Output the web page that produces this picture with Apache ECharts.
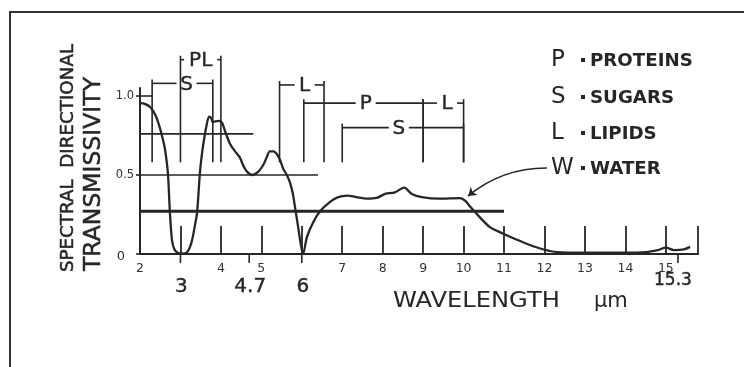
<!DOCTYPE html>
<html>
<head>
<meta charset="utf-8">
<script src="https://cdn.jsdelivr.net/npm/echarts@6/dist/echarts.min.js"></script>
<style>
  html, body { margin: 0; padding: 0; background: #fff; }
  #chart { width: 744px; height: 367px; }
</style>
</head>
<body>
<div id="chart"></div>
<script>
// Spectral directional transmissivity against wavelength (µm)
const wavelength = [
  2.00, 2.12, 2.25, 2.38, 2.49, 2.57, 2.62, 2.69, 2.74, 2.79, 2.85, 2.93, 3.05, 3.16, 3.23,
  3.29, 3.35, 3.41, 3.48, 3.53, 3.58, 3.65, 3.71, 3.76, 3.80, 3.86, 3.95, 4.03, 4.10, 4.22,
  4.35, 4.47, 4.57, 4.65, 4.77, 4.92, 5.04, 5.13, 5.21, 5.30, 5.39, 5.47, 5.54, 5.63, 5.71,
  5.78, 5.83, 5.91, 5.97, 6.03, 6.13, 6.28, 6.45, 6.70, 6.90, 7.12, 7.35, 7.61, 7.85, 8.06,
  8.30, 8.53, 8.72, 8.97, 9.39, 9.91, 10.05, 10.16, 10.41, 10.65, 10.97, 11.32, 11.64, 11.96,
  12.30, 13.00, 14.00, 14.50, 14.80, 15.00, 15.20, 15.45, 15.60
];
const transmissivity = [
  0.955, 0.950, 0.930, 0.880, 0.800, 0.720, 0.660, 0.510, 0.260, 0.090, 0.030, 0.008, 0.003, 0.010, 0.040,
  0.090, 0.170, 0.260, 0.510, 0.630, 0.720, 0.820, 0.870, 0.860, 0.835, 0.840, 0.842, 0.830, 0.780, 0.700,
  0.650, 0.610, 0.550, 0.520, 0.500, 0.520, 0.560, 0.610, 0.650, 0.650, 0.630, 0.590, 0.540, 0.500, 0.450,
  0.380, 0.300, 0.170, 0.070, 0.000, 0.110, 0.200, 0.270, 0.330, 0.360, 0.370, 0.360, 0.350, 0.355, 0.380,
  0.390, 0.420, 0.380, 0.360, 0.350, 0.354, 0.335, 0.300, 0.230, 0.170, 0.130, 0.090, 0.057, 0.030,
  0.012, 0.008, 0.008, 0.012, 0.025, 0.040, 0.025, 0.030, 0.045
];

// Absorption bands: P proteins, S sugars, L lipids
const bandNames = ['S', 'PL', 'L', 'P', 'L', 'S'];
const bandFrom = [2.3, 3.0, 5.45, 6.05, 9.0, 7.0];
const bandTo = [3.8, 4.0, 6.55, 9.0, 10.0, 10.0];
const bandLabelAt = [3.15, 3.5, 6.07, 7.58, 9.59, 8.4];

// Horizontal reference levels and the wavelength where each stops
const refLevels = [0.76, 0.5, 0.27];
const refEnds = [4.8, 6.4, 11.0];

// Wavelengths called out under the axis
const markedWavelengths = [3, 4.7, 6, 15.3];

// Tick labels
const xTickLabels = [2, 4, 5, 7, 8, 9, 10, 11, 12, 13, 14, 15];
const yTickLabels = ['0', '0.5', '1.0'];

// Key
const legendKeys = ['P', 'S', 'L', 'W'];
const legendNames = ['PROTEINS', 'SUGARS', 'LIPIDS', 'WATER'];

// Pointer from the water entry to the curve
const waterArrow = [[12.06, 0.544], [10.11, 0.367]];

// ---- drawing ----
const INK = '#262626';
const FONT = '"DejaVu Sans", "Noto Sans", sans-serif';
const X_MIN = 2, X_MAX = 15.8, Y_MAX = 1.05;

// layout of the band brackets (height of each bracket, foot of the drop lines)
const bracketLevel = [1.08, 1.23, 1.07, 0.955, 0.955, 0.80];
const bracketFoot = 0.58;

const chart = echarts.init(document.getElementById('chart'), null, { renderer: 'canvas' });

function renderBand(params, api) {
  const i = params.dataIndex;
  const from = api.value(0), to = api.value(1), at = api.value(2);
  const level = bracketLevel[i];
  const a = api.coord([from, level]);
  const b = api.coord([to, level]);
  const m = api.coord([at, level]);
  const yTop = api.coord([from, level + 0.025])[1];
  const yFoot = api.coord([from, bracketFoot])[1];
  const name = bandNames[i];
  const half = name.length * 6.5 + 3.5;
  const ls = () => ({ stroke: INK, lineWidth: 1.6 });
  return {
    type: 'group',
    children: [
      { type: 'line', shape: { x1: a[0], y1: yTop, x2: a[0], y2: yFoot }, style: ls() },
      { type: 'line', shape: { x1: b[0], y1: yTop, x2: b[0], y2: yFoot }, style: ls() },
      { type: 'line', shape: { x1: a[0], y1: a[1], x2: m[0] - half, y2: a[1] }, style: ls() },
      { type: 'line', shape: { x1: m[0] + half, y1: a[1], x2: b[0], y2: a[1] }, style: ls() },
      { type: 'text', x: m[0], y: m[1] + 1,
        style: { text: name, fill: INK, font: '20px ' + FONT, align: 'center', verticalAlign: 'middle',
                 stroke: INK, lineWidth: 0.4 } }
    ]
  };
}

function renderMarked(params, api) {
  const v = api.value(0);
  const p = api.coord([v, 0]);
  const wide = v > 15;
  const txt = String(v);
  return {
    type: 'group',
    children: [
      { type: 'line', shape: { x1: p[0], y1: p[1], x2: p[0], y2: p[1] + 9 }, style: { stroke: INK, lineWidth: 1.6 } },
      { type: 'text', x: p[0] + (wide ? -5 : 1), y: p[1] + (wide ? 27 : 33),
        style: { text: txt, fill: INK, font: (wide ? '17px ' : '20px ') + FONT, align: 'center', verticalAlign: 'middle',
                 stroke: INK, lineWidth: 0.4 } }
    ]
  };
}

const series = [];

// reference levels
refLevels.forEach((lvl, i) => {
  series.push({
    type: 'line', silent: true, symbol: 'none', clip: false, z: 2,
    data: [[X_MIN, lvl], [refEnds[i], lvl]],
    lineStyle: { color: INK, width: i === refLevels.length - 1 ? 3 : 1.6 }
  });
});

// stub from the 1.0 tick to the first bracket
series.push({
  type: 'line', silent: true, symbol: 'none', clip: false, z: 2,
  data: [[X_MIN, 1.0], [bandFrom[0], 1.0]],
  lineStyle: { color: INK, width: 1.6 }
});

// band brackets
series.push({
  type: 'custom', silent: true, clip: false, z: 3,
  renderItem: renderBand,
  data: bandFrom.map((f, i) => [f, bandTo[i], bandLabelAt[i]])
});

// called-out wavelengths
series.push({
  type: 'custom', silent: true, clip: false, z: 3,
  renderItem: renderMarked,
  data: markedWavelengths.map(v => [v, 0])
});

// transmissivity curve
series.push({
  type: 'line', silent: true, symbol: 'none', clip: false, z: 5,
  smooth: 0.3,
  data: wavelength.map((w, i) => [w, transmissivity[i]]),
  lineStyle: { color: INK, width: 2.3 }
});

// water pointer
series.push({
  type: 'lines', coordinateSystem: 'cartesian2d', silent: true, z: 6,
  symbol: ['none', 'arrow'], symbolSize: 8,
  data: [{ coords: waterArrow }],
  lineStyle: { color: INK, width: 1.6, curveness: -0.18, opacity: 1 }
});

// key on the right
const legendGraphics = [];
legendKeys.forEach((k, i) => {
  const cy = [60, 97, 133, 168][i];
  legendGraphics.push(
    { type: 'text', x: 551, y: cy, style: { text: k, fill: INK, font: '23px ' + FONT, align: 'left', verticalAlign: 'middle' } },
    { type: 'rect', shape: { x: 581, y: cy - 2, width: 4, height: 4 }, style: { fill: INK } },
    { type: 'text', x: 590, y: cy + 1, scaleX: 1.04,
      style: { text: legendNames[i], fill: INK, font: 'bold 17.5px ' + FONT, align: 'left', verticalAlign: 'middle' } }
  );
});

chart.setOption({
  animation: false,
  backgroundColor: '#fff',
  grid: { left: 140, right: 45.8, top: 88.1, bottom: 113, containLabel: false },
  xAxis: {
    type: 'value', min: X_MIN, max: X_MAX, interval: 1,
    axisLine: { lineStyle: { color: INK, width: 2 } },
    axisTick: { inside: true, length: 28, lineStyle: { color: INK, width: 1.8 } },
    axisLabel: {
      margin: 8, color: '#333', fontSize: 12.5, fontFamily: FONT,
      formatter: v => (xTickLabels.indexOf(Math.round(v)) >= 0 && Math.abs(v - Math.round(v)) < 1e-6) ? String(Math.round(v)) : ''
    },
    splitLine: { show: false }
  },
  yAxis: {
    type: 'value', min: 0, max: Y_MAX, interval: 0.5,
    axisLine: { show: true, lineStyle: { color: INK, width: 2 } },
    axisTick: { show: true, inside: false, length: 4, lineStyle: { color: INK, width: 1.6 } },
    axisLabel: {
      margin: 6, color: '#333', fontSize: 11.5, fontFamily: FONT,
      formatter: v => {
        const idx = Math.round(v / 0.5);
        const t = yTickLabels[idx] || '';
        return idx === 0 ? '{z|' + t + '}' : t;
      },
      rich: { z: { fontSize: 13, fontFamily: FONT, color: '#333', padding: [6, 9, 0, 0] } }
    },
    splitLine: { show: false }
  },
  graphic: [
    { type: 'polyline', shape: { points: [[10, 367], [10, 12], [744, 12]] }, style: { stroke: '#333', lineWidth: 2, fill: null } },
    { type: 'text', x: 68, y: 158, rotation: Math.PI / 2,
      style: { text: 'SPECTRAL  DIRECTIONAL', fill: INK, font: '18.3px ' + FONT, align: 'center', verticalAlign: 'middle',
               stroke: INK, lineWidth: 0.5 } },
    { type: 'text', x: 94, y: 174, rotation: Math.PI / 2,
      style: { text: 'TRANSMISSIVITY', fill: INK, font: '23.5px ' + FONT, align: 'center', verticalAlign: 'middle',
               stroke: INK, lineWidth: 0.5 } },
    { type: 'text', x: 393, y: 302, scaleX: 1.15,
      style: { text: 'WAVELENGTH', fill: INK, font: '21px ' + FONT, align: 'left', verticalAlign: 'middle' } },
    { type: 'text', x: 594, y: 302,
      style: { text: 'µm', fill: INK, font: '21px ' + FONT, align: 'left', verticalAlign: 'middle' } }
  ].concat(legendGraphics),
  series: series
});
</script>
</body>
</html>
